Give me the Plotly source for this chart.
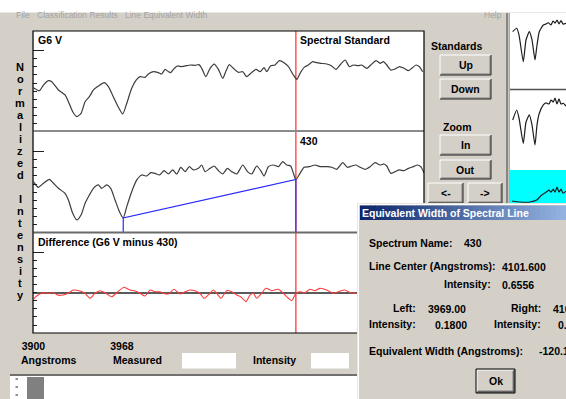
import plotly.graph_objects as go

W, H = 566, 399
FONT = "Liberation Sans, Arial, sans-serif"
FACE = "#d4d0c8"

# ---------------- data ----------------
g6v_wl = [3900.0, 3904.6, 3907.7, 3911.5, 3914.1, 3919.2, 3924.3, 3926.9, 3930.2, 3933.3,
          3936.6, 3939.7, 3943.0, 3946.1, 3949.9, 3954.5, 3957.6, 3961.4, 3965.3, 3968.6,
          3971.7, 3975.5, 3978.9, 3981.9, 3985.8, 3988.3, 3992.2, 3996.0, 3998.6, 4001.1,
          4003.7, 4005.5, 4007.5, 4010.6, 4013.9, 4017.8, 4020.3, 4024.2, 4027.2, 4029.3,
          4032.4, 4035.7, 4038.8, 4042.1, 4045.4, 4048.0, 4050.5, 4053.6, 4057.5, 4060.8,
          4063.8, 4067.7, 4071.0, 4074.1, 4077.2, 4079.2, 4082.3, 4085.6, 4088.9, 4092.5,
          4095.9, 4099.7, 4102.3, 4104.8, 4107.9, 4111.2, 4114.5, 4117.6, 4120.7, 4125.3,
          4129.1, 4132.5, 4135.5, 4139.4, 4142.7, 4145.8, 4149.6, 4152.2, 4156.0, 4159.1,
          4163.2, 4166.3, 4168.8, 4171.4, 4174.5, 4177.8, 4181.1, 4184.7, 4188.0, 4190.6,
          4193.9, 4196.5, 4199.0]
g6v_int = [0.542, 0.505, 0.575, 0.629, 0.617, 0.514, 0.452, 0.369, 0.245, 0.184,
           0.225, 0.369, 0.431, 0.514, 0.563, 0.604, 0.555, 0.431, 0.299, 0.217,
           0.349, 0.534, 0.637, 0.679, 0.670, 0.712, 0.740, 0.728, 0.712, 0.769,
           0.740, 0.728, 0.769, 0.811, 0.802, 0.815, 0.823, 0.819, 0.827, 0.782,
           0.679, 0.782, 0.835, 0.769, 0.658, 0.753, 0.827, 0.782, 0.732, 0.740,
           0.679, 0.732, 0.769, 0.740, 0.790, 0.740, 0.815, 0.823, 0.877, 0.852,
           0.802, 0.699, 0.646, 0.720, 0.794, 0.823, 0.864, 0.852, 0.844, 0.835,
           0.811, 0.769, 0.823, 0.885, 0.802, 0.823, 0.815, 0.823, 0.782, 0.823,
           0.877, 0.844, 0.864, 0.823, 0.761, 0.774, 0.802, 0.782, 0.753, 0.782,
           0.823, 0.802, 0.740]

spec430_wl = [3900.0, 3903.8, 3907.7, 3912.3, 3915.4, 3919.2, 3924.3, 3926.9, 3930.2, 3933.3,
              3936.6, 3939.7, 3943.0, 3946.1, 3949.9, 3952.5, 3956.3, 3959.4, 3962.7, 3966.1,
              3969.0, 3971.7, 3975.5, 3979.4, 3983.2, 3987.0, 3990.1, 3993.4, 3996.8, 4000.4,
              4003.7, 4007.0, 4010.1, 4013.2, 4016.5, 4019.8, 4022.9, 4026.7, 4029.3, 4031.8,
              4035.7, 4038.8, 4042.1, 4045.4, 4049.0, 4052.3, 4056.2, 4060.8, 4064.4, 4067.7,
              4071.5, 4074.6, 4077.2, 4080.5, 4084.3, 4088.2, 4091.5, 4094.6, 4097.6, 4099.7,
              4101.6, 4104.8, 4107.9, 4112.0, 4116.3, 4120.2, 4125.3, 4129.1, 4133.0, 4137.6,
              4141.2, 4144.5, 4147.8, 4150.9, 4154.7, 4158.6, 4162.4, 4166.3, 4169.3, 4171.4,
              4174.5, 4177.8, 4181.1, 4184.7, 4188.0, 4191.9, 4194.9, 4197.5, 4200.0]
spec430_int = [0.629, 0.559, 0.609, 0.658, 0.609, 0.547, 0.485, 0.402, 0.237, 0.155,
               0.217, 0.361, 0.464, 0.547, 0.588, 0.547, 0.588, 0.547, 0.402, 0.258,
               0.180, 0.320, 0.505, 0.650, 0.712, 0.699, 0.740, 0.732, 0.712, 0.765,
               0.724, 0.774, 0.724, 0.807, 0.753, 0.815, 0.774, 0.794, 0.835, 0.753,
               0.794, 0.823, 0.765, 0.724, 0.794, 0.753, 0.724, 0.835, 0.753, 0.724,
               0.823, 0.765, 0.699, 0.815, 0.835, 0.815, 0.877, 0.835, 0.823, 0.732,
               0.656, 0.732, 0.807, 0.815, 0.835, 0.815, 0.815, 0.807, 0.782, 0.864,
               0.807, 0.823, 0.835, 0.807, 0.782, 0.815, 0.864, 0.835, 0.848, 0.823,
               0.732, 0.753, 0.774, 0.765, 0.794, 0.815, 0.835, 0.815, 0.740]

diff_wl = [3900.0, 3902.5, 3907.6, 3911.4, 3915.3, 3919.1, 3923.0, 3926.8, 3930.6, 3935.8,
           3939.6, 3943.5, 3947.3, 3951.2, 3955.0, 3960.1, 3964.0, 3969.6, 3974.2, 3978.0,
           3981.9, 3985.7, 3989.6, 3993.4, 3997.2, 3999.8, 4003.6, 4008.0, 4012.6, 4016.4,
           4020.3, 4024.1, 4027.9, 4031.0, 4034.3, 4038.2, 4040.8, 4044.1, 4048.5, 4052.3,
           4056.1, 4059.2, 4063.3, 4066.4, 4068.9, 4071.5, 4075.3, 4078.6, 4083.0, 4088.1,
           4091.9, 4095.8, 4098.4, 4101.7, 4104.8, 4108.6, 4112.4, 4116.3, 4120.1, 4125.3,
           4130.3, 4134.2, 4139.3, 4143.2, 4148.3]
diff_val = [-0.082, -0.041, 0.000, -0.007, 0.000, -0.032, -0.028, -0.007, 0.033, 0.021,
            -0.007, -0.069, -0.007, 0.025, 0.000, -0.050, 0.000, 0.067, 0.033, 0.021,
            -0.007, -0.041, 0.033, 0.012, 0.012, -0.007, -0.016, 0.042, -0.016, 0.012,
            0.033, 0.025, -0.007, -0.069, -0.028, 0.033, -0.007, -0.069, 0.025, 0.012,
            -0.028, -0.050, -0.111, -0.028, -0.007, -0.069, -0.007, 0.054, 0.025, 0.042,
            -0.007, -0.069, -0.099, -0.007, 0.012, 0.000, 0.042, 0.025, 0.054, 0.033,
            -0.007, 0.012, 0.033, 0.000, -0.007]

thumb1_wl = [3905.4, 3913.4, 3918.0, 3926.6, 3932.0, 3938.6, 3944.0, 3950.0, 3954.0, 3958.6,
             3966.6, 3972.0, 3976.6, 3982.0, 3986.0, 3990.0, 3994.0, 3998.0, 4002.0, 4006.0, 4012.0]
thumb1_int = [0.754, 0.799, 0.711, 0.359, 0.645, 0.754, 0.645, 0.382, 0.579, 0.754,
              0.842, 0.855, 0.872, 0.842, 0.895, 0.868, 0.908, 0.855, 0.901, 0.855, 0.864]
thumb2_wl = [3905.4, 3913.4, 3918.0, 3926.6, 3932.0, 3938.6, 3944.0, 3950.0, 3954.0, 3958.6,
             3966.6, 3972.0, 3978.0, 3982.0, 3986.6, 3990.0, 3994.0, 3998.0, 4002.0, 4006.6, 4012.0]
thumb2_int = [0.625, 0.750, 0.650, 0.334, 0.600, 0.688, 0.563, 0.313, 0.563, 0.709,
              0.813, 0.838, 0.825, 0.875, 0.850, 0.900, 0.825, 0.888, 0.825, 0.834, 0.800]
thumb3_wl = [3904.0, 3920.0, 3940.0, 3953.4, 3963.4, 3973.4, 3978.0, 3982.0, 3986.6, 3990.0,
             3994.0, 3998.0, 4002.0, 4006.0, 4012.0]
thumb3_int = [0.06, 0.03, 0.03, 0.09, 0.24, 0.34, 0.39, 0.33, 0.42, 0.33,
              0.48, 0.33, 0.42, 0.30, 0.36]

x_tick_vals = [3900, 3968]
x_tick_text = ["3900", "3968"]
norm_ticks_major = [1.0]
norm_ticks_minor = [0.9, 0.8, 0.7, 0.6, 0.5, 0.4, 0.3, 0.2, 0.1]
diff_ticks_major = [0.5]
diff_ticks_minor = [0.4, 0.3, 0.2, 0.1, 0.0, -0.1, -0.2, -0.3, -0.4]

standard_name = "G6 V"
spectrum_name = "430"
line_center = 4101.600
center_intensity = 0.6556
left_wl = 3969.00
left_int = 0.1800
right_wl = 4101.60
right_int = 0.6556
eq_width = -120.18
y_axis_label = "Normalized Intensity"
menu_items = [("File", 15), ("Classification Results", 36), ("Line Equivalent Width", 124)]

# ---------------- helpers ----------------
def px(x):
    return x / W

def py(y):
    return 1 - y / H

shapes = []
annotations = []

def rect(x0, y0, x1, y1, fill, line=None, lw=1, layer="above"):
    shapes.append(dict(type="rect", xref="paper", yref="paper",
                       x0=px(x0), x1=px(x1), y0=py(y1), y1=py(y0),
                       fillcolor=fill, layer=layer,
                       line=dict(color=line or fill, width=lw if line else 0)))

def seg(x0, y0, x1, y1, color, lw=1, layer="above"):
    shapes.append(dict(type="line", xref="paper", yref="paper",
                       x0=px(x0), x1=px(x1), y0=py(y0), y1=py(y1),
                       layer=layer, line=dict(color=color, width=lw)))

def text(x, y, s, anchor="left", size=10.5, bold=True, color="black"):
    annotations.append(dict(xref="paper", yref="paper", x=px(x), y=py(y), text=s,
                            showarrow=False, xanchor=anchor, yanchor="middle",
                            borderpad=0,
                            font=dict(family=FONT, size=size, color=color,
                                      weight="bold" if bold else "normal")))

def button(x0, y0, x1, y1, label, default=False):
    rect(x0, y0, x1, y1, FACE)
    seg(x0, y0, x1, y0, "white")
    seg(x0, y0, x0, y1, "white")
    seg(x0 + 1, y1 - 1, x1 - 1, y1 - 1, "#808080")
    seg(x1 - 1, y0 + 1, x1 - 1, y1 - 1, "#808080")
    seg(x0, y1, x1, y1, "#202020")
    seg(x1, y0, x1, y1, "#202020")
    if default:
        rect(x0 - 1, y0 - 1, x1 + 1, y1 + 1, "rgba(0,0,0,0)", line="#000000", lw=1)
    text((x0 + x1) / 2, (y0 + y1) / 2, label, anchor="center")

fig = go.Figure()

line_gray = dict(color="#3c3c3c", width=1.2, shape="spline", smoothing=0.6)
fig.add_trace(go.Scatter(x=g6v_wl, y=g6v_int, mode="lines", line=line_gray,
                         xaxis="x", yaxis="y", hoverinfo="skip"))
fig.add_trace(go.Scatter(x=spec430_wl, y=spec430_int, mode="lines", line=line_gray,
                         xaxis="x2", yaxis="y2", hoverinfo="skip"))
fig.add_trace(go.Scatter(x=[left_wl, left_wl, right_wl, right_wl],
                         y=[0, left_int, right_int, 0], mode="lines",
                         line=dict(color="#2a2aff", width=1.2),
                         xaxis="x2", yaxis="y2", hoverinfo="skip"))
fig.add_trace(go.Scatter(x=diff_wl, y=diff_val, mode="lines",
                         line=dict(color="#ff3a3a", width=1.1, shape="spline", smoothing=0.6),
                         xaxis="x3", yaxis="y3", hoverinfo="skip"))
thumb_line = dict(color="#1e1e1e", width=1.2, shape="spline", smoothing=0.5)
fig.add_trace(go.Scatter(x=thumb1_wl, y=thumb1_int, mode="lines", line=thumb_line,
                         xaxis="x4", yaxis="y4", hoverinfo="skip"))
fig.add_trace(go.Scatter(x=thumb2_wl, y=thumb2_int, mode="lines", line=thumb_line,
                         xaxis="x5", yaxis="y5", hoverinfo="skip"))
fig.add_trace(go.Scatter(x=thumb3_wl, y=thumb3_int, mode="lines", line=thumb_line,
                         xaxis="x6", yaxis="y6", hoverinfo="skip"))

# ---------------- axes ----------------
main_xdom = [px(33.4), px(424)]
hidden = dict(showgrid=False, zeroline=False, showticklabels=False, ticks="",
              showline=False, automargin=False)

def yax(dom, rng, major, minor, zeroline=False):
    return dict(domain=dom, range=rng, showgrid=False, zeroline=zeroline,
                zerolinecolor="#5a5a5a", zerolinewidth=1.5, automargin=False,
                showticklabels=False, showline=False, ticks="inside",
                tickmode="array", tickvals=major, ticklen=11, tickwidth=1, tickcolor="#202020",
                minor=dict(tickmode="array", tickvals=minor, ticks="inside", ticklen=4,
                           tickwidth=1, tickcolor="#202020", showgrid=False))

layout = dict(
    template="none",
    width=W, height=H, autosize=False, margin=dict(l=0, r=0, t=0, b=0, pad=0, autoexpand=False),
    paper_bgcolor=FACE, plot_bgcolor="white", showlegend=False,
    xaxis=dict(domain=main_xdom, range=[3900, 4200], anchor="y", **hidden),
    yaxis=yax([py(131), py(31)], [0.006, 1.244], norm_ticks_major, norm_ticks_minor),
    xaxis2=dict(domain=main_xdom, range=[3900, 4200], anchor="y2", **hidden),
    yaxis2=yax([py(232), py(131)], [0.006, 1.256], norm_ticks_major, norm_ticks_minor),
    xaxis3=dict(domain=main_xdom, range=[3900, 4200], anchor="y3", showgrid=False,
                zeroline=False, showline=False, ticks="", showticklabels=True,
                automargin=False,
                tickmode="array", tickvals=x_tick_vals, ticktext=x_tick_text,
                ticklabelstandoff=5,
                tickfont=dict(family=FONT, size=10.5, color="black", weight="bold")),
    yaxis3=yax([py(333), py(232)], [-0.4988, 0.7512], diff_ticks_major, diff_ticks_minor,
               zeroline=True),
    xaxis4=dict(domain=[px(510), 1], range=[3900, 4012], anchor="y4", **hidden),
    yaxis4=dict(domain=[py(89), py(13)], range=[0, 1], anchor="x4", **hidden),
    xaxis5=dict(domain=[px(510), 1], range=[3900, 4012], anchor="y5", **hidden),
    yaxis5=dict(domain=[py(170), py(90)], range=[0, 1], anchor="x5", **hidden),
    xaxis6=dict(domain=[px(510), 1], range=[3900, 4012], anchor="y6", **hidden),
    yaxis6=dict(domain=[py(203), py(170)], range=[0, 1], anchor="x6", **hidden),
)
layout["yaxis"]["anchor"] = "x"
layout["yaxis2"]["anchor"] = "x2"
layout["yaxis3"]["anchor"] = "x3"

# ---------------- UI shapes ----------------
rect(510, 170, 566, 203, "#00ffff", layer="below")
shapes.append(dict(type="line", xref="x", yref="paper", x0=line_center, x1=line_center,
                   y0=py(333), y1=py(31), layer="below",
                   line=dict(color="#ff2a2a", width=1.2)))

rect(0, 0, 566, 12.5, "white")
seg(33.4, 131, 424, 131, "#8a8a8a", 2)
seg(33.4, 232.5, 424, 232.5, "#6a6a6a", 2)
rect(33, 31, 424, 333, "rgba(0,0,0,0)", line="#000000", lw=1.2)

seg(507, 13, 507, 399, "#6e6e6e", 1.5)
seg(509.3, 13, 509.3, 399, "#a8a8a8", 1.2)
seg(510, 89.5, 566, 89.5, "#505050", 1.5)

button(440, 55, 491, 75, "Up")
button(440, 79, 491, 99, "Down")
button(440, 135, 491, 155, "In")
button(440, 160, 491, 179, "Out")
button(428, 183, 463, 203, "<-")
button(468, 183, 502, 203, "->")

rect(182, 353, 236, 368.5, "white")
rect(311, 353, 349, 368.5, "white")

rect(10, 376, 357, 399, "white")
seg(10, 375, 357, 375, "#505050", 1.6)
rect(27, 377, 44, 399, "#808080")
for yy in (379, 387, 395):
    seg(15.5, yy, 18, yy, "#202020", 1)

rect(357, 203, 566, 399, FACE)
seg(357.5, 203, 357.5, 399, "#e8e6e0", 1)
seg(358.5, 204, 358.5, 399, "white", 1)
seg(357, 203.5, 566, 203.5, "#e8e6e0", 1)
seg(358, 204.5, 566, 204.5, "white", 1)
n_slices = 40
c0 = (10, 36, 106)
c1 = (150, 180, 226)
for i in range(n_slices):
    a = 360 + (566 - 360) * i / n_slices
    b = 360 + (566 - 360) * (i + 1) / n_slices + 0.6
    t = (i + 0.5) / n_slices
    col = "rgb(%d,%d,%d)" % tuple(round(c0[k] + (c1[k] - c0[k]) * t) for k in range(3))
    rect(a, 205.5, b, 220, col)
button(477, 370, 514, 392, "Ok", default=True)

# ---------------- texts ----------------
for name, x in menu_items:
    text(x, 15, name, size=8.5, bold=False, color="#a4a4a4")
text(483, 15, "Help", size=8.5, bold=False, color="#a4a4a4")

text(37, 40, standard_name)
text(299, 40.5, "Spectral Standard")
text(299, 141, spectrum_name)
text(37, 241.5, "Difference (%s minus %s)" % (standard_name, spectrum_name))

for i, ch in enumerate(y_axis_label):
    if ch != " ":
        text(20, 67 + 12 * i, ch, anchor="center", size=11)

text(457, 46, "Standards", anchor="center")
text(457, 126.5, "Zoom", anchor="center")

text(20, 360, "Angstroms")
text(111.5, 360, "Measured")
text(252, 360, "Intensity")

text(361, 213, "Equivalent Width of Spectral Line", color="white", size=10.5)
text(368, 243, "Spectrum Name:")
text(463, 243, spectrum_name)
text(368, 266, "Line Center (Angstroms):")
text(501, 267, "%.3f" % line_center)
text(492, 283.5, "Intensity:", anchor="right")
text(501, 285, "%.4f" % center_intensity)
text(417, 307.5, "Left:", anchor="right")
text(427, 309, "%.2f" % left_wl)
text(542, 307.5, "Right:", anchor="right")
text(552, 309, "%.2f" % right_wl)
text(417, 323.5, "Intensity:", anchor="right")
text(434, 325, "%.4f" % left_int)
text(542, 323.5, "Intensity:", anchor="right")
text(557, 325, "%.4f" % right_int)
text(368, 351, "Equivalent Width (Angstroms):")
text(538, 351, "%.2f" % eq_width)

layout["shapes"] = shapes
layout["annotations"] = annotations
fig.update_layout(**layout)
fig.write_html("out.html", config={"displayModeBar": False},
               post_script="document.body.style.margin='0';")
